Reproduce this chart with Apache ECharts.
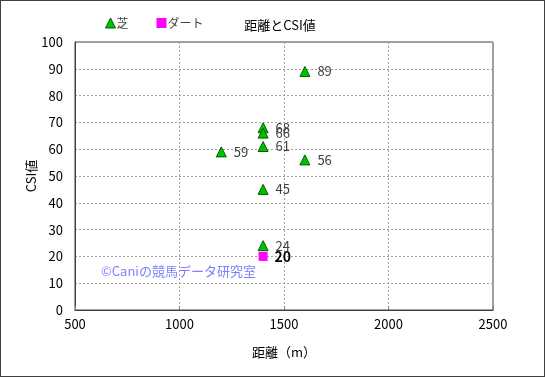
<!DOCTYPE html>
<html lang="ja">
  <head>
    <meta charset="UTF-8" />
    <title>距離とCSI値</title>
    <style>
      html, body { margin: 0; padding: 0; background: #fff; }
      #chart { width: 543px; height: 375px; border: 1px solid #404040; }
    </style>
  </head>
  <body>
    <div id="chart"></div>
    <script src="https://cdn.jsdelivr.net/npm/echarts@6/dist/echarts.min.js"></script>
    <script>
      // 距離とCSI値
      var shibaDist = [1200, 1400, 1400, 1400, 1400, 1400, 1600, 1600];
      var shibaCsi = [59, 68, 66, 61, 45, 24, 89, 56];
      var dirtDist = [1400];
      var dirtCsi = [20];
      var xTicks = [500, 1000, 1500, 2000, 2500];

      var font = '"Noto Sans CJK JP", sans-serif';

      function pairs(xs, ys) {
        var res = [];
        for (var i = 0; i < xs.length; i++) {
          res.push([xs[i], ys[i]]);
        }
        return res;
      }

      var myChart = echarts.init(document.getElementById("chart"));
      var option = {
        animation: false,
        backgroundColor: "#fff",
        textStyle: { fontFamily: font },
        title: {
          text: "距離とCSI値",
          left: 274,
          top: 13,
          textAlign: "center",
          textStyle: { fontSize: 13, fontWeight: "normal", color: "#000", fontFamily: font },
        },
        legend: {
          left: 99,
          top: 11,
          itemGap: 28,
          itemWidth: 10,
          itemHeight: 10,
          textStyle: { fontSize: 12, color: "#404040", fontFamily: font, padding: [0, 0, 0, -4] },
          data: [
            { name: "芝", icon: "triangle", itemStyle: { color: "#00c000", borderColor: "#006000", borderWidth: 1 } },
            { name: "ダート", icon: "rect", itemStyle: { color: "#ff00ff" } },
          ],
        },
        grid: { left: 74, right: 51, top: 41, bottom: 66 },
        xAxis: {
          type: "value",
          min: xTicks[0],
          max: xTicks[xTicks.length - 1],
          interval: 500,
          name: "距離（m）",
          nameLocation: "middle",
          nameGap: 36,
          nameMoveOverlap: false,
          nameTextStyle: { fontSize: 13, color: "#000", fontFamily: font },
          axisLine: { lineStyle: { color: "#404040", width: 1 } },
          axisTick: { show: true, inside: true, length: 4, lineStyle: { color: "#808080" } },
          axisLabel: { fontSize: 13, color: "#000", margin: 8, formatter: function (v) { return String(v); } },
          splitLine: { show: true, lineStyle: { color: "#a0a0a0", type: [2, 2] } },
        },
        yAxis: {
          type: "value",
          min: 0,
          max: 100,
          interval: 10,
          name: "CSI値",
          nameLocation: "middle",
          nameGap: 37,
          nameMoveOverlap: false,
          nameTextStyle: { fontSize: 13, color: "#000", fontFamily: font },
          axisLine: { show: true, lineStyle: { color: "#404040", width: 1 } },
          axisTick: { show: false },
          axisLabel: { fontSize: 13, color: "#000", margin: 12 },
          splitLine: { show: true, lineStyle: { color: "#a0a0a0", type: [2, 2] } },
        },
        graphic: [
          {
            type: "rect",
            shape: { x: 74, y: 41, width: 418, height: 268 },
            style: { fill: "none", stroke: "#404040", lineWidth: 1 },
            silent: true,
          },
          {
            type: "text",
            left: 100,
            top: 264,
            style: { text: "©Caniの競馬データ研究室", fill: "#8080ff", fontSize: 13, fontFamily: font },
            silent: true,
          },
        ],
        series: [
          {
            name: "芝",
            type: "scatter",
            symbol: "triangle",
            symbolSize: 10,
            itemStyle: { color: "#00c000", borderColor: "#006000", borderWidth: 1, opacity: 1 },
            label: {
              show: true,
              position: "right",
              distance: 7,
              fontSize: 13,
              color: "#404040",
              formatter: function (p) { return p.value[1]; },
            },
            data: pairs(shibaDist, shibaCsi),
          },
          {
            name: "ダート",
            type: "scatter",
            symbol: "rect",
            symbolSize: 9,
            itemStyle: { color: "#ff00ff", opacity: 1 },
            label: {
              show: true,
              position: "right",
              distance: 7,
              fontSize: 14,
              fontWeight: "bold",
              color: "#000",
              formatter: function (p) { return p.value[1]; },
            },
            data: pairs(dirtDist, dirtCsi),
          },
        ],
      };
      myChart.setOption(option);
    </script>
  </body>
</html>
